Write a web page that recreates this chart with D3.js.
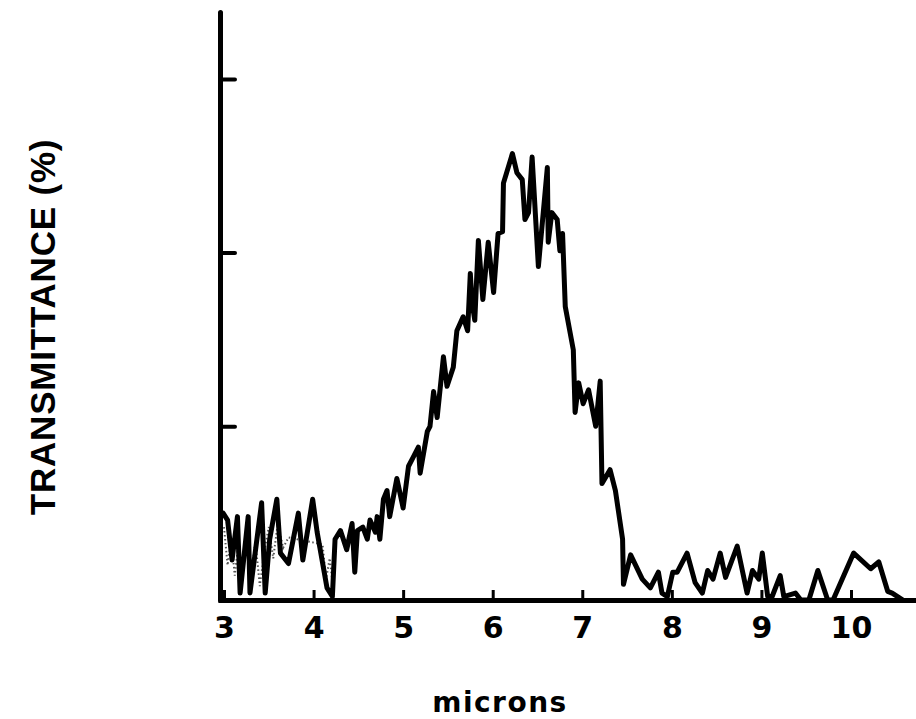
<!DOCTYPE html>
<html>
<head>
<meta charset="utf-8">
<script src="https://cdn.jsdelivr.net/npm/d3@7/dist/d3.min.js"></script>
<style>
  html, body { margin: 0; padding: 0; background: #fff; }
  svg { display: block; }
</style>
</head>
<body>
<svg id="chart" width="916" height="719"></svg>
<script>
// wavelength (microns) and transmittance readings of the main trace
const wavelength = [2.99,3.04,3.09,3.15,3.18,3.27,3.29,3.42,3.46,3.51,3.59,3.63,3.72,3.83,3.88,3.99,4.04,4.15,4.21,4.24,4.30,4.37,4.43,4.46,4.49,4.55,4.60,4.63,4.69,4.71,4.74,4.78,4.82,4.85,4.93,5.00,5.06,5.11,5.17,5.19,5.27,5.30,5.34,5.38,5.45,5.49,5.56,5.60,5.67,5.72,5.75,5.77,5.80,5.84,5.89,5.95,6.01,6.06,6.11,6.12,6.22,6.27,6.33,6.36,6.40,6.44,6.51,6.61,6.62,6.66,6.72,6.75,6.78,6.81,6.90,6.92,6.96,7.01,7.07,7.15,7.20,7.22,7.31,7.37,7.45,7.46,7.54,7.67,7.76,7.85,7.89,7.95,8.01,8.06,8.17,8.26,8.34,8.40,8.46,8.54,8.60,8.73,8.84,8.90,8.97,9.01,9.07,9.12,9.21,9.25,9.38,9.44,9.53,9.63,9.74,9.80,10.03,10.22,10.31,10.41,10.46,10.52,10.58];
const transmittance = [5.0,4.6,2.3,4.8,0.4,4.8,0.4,5.6,0.4,3.5,5.8,2.7,2.1,5.0,2.3,5.8,3.9,0.7,0.2,3.5,4.0,2.9,4.4,1.6,4.0,4.2,3.5,4.6,3.9,4.8,3.5,5.8,6.3,4.8,7.0,5.3,7.7,8.2,8.8,7.3,9.7,10.0,12.0,10.5,14.0,12.3,13.4,15.5,16.3,15.5,18.8,17.1,16.1,20.7,17.3,20.6,17.7,21.1,21.2,24.0,25.7,24.6,24.2,21.9,22.3,25.5,19.2,24.9,20.6,22.3,21.9,20.1,21.1,16.9,14.4,10.8,12.5,11.3,12.1,10.0,12.6,6.7,7.5,6.3,3.5,0.9,2.6,1.2,0.7,1.6,0.4,0.2,1.6,1.6,2.7,1.0,0.4,1.7,1.2,2.7,1.3,3.1,0.4,1.7,1.2,2.7,0.2,0.2,1.4,0.2,0.4,0,0,1.7,0,0,2.7,1.8,2.2,0.5,0.4,0.2,0];

// faint stippled trace visible near 3-4.3 microns
const stippleWavelength = [3.00,3.04,3.08,3.12,3.16,3.20,3.25,3.30,3.35,3.40,3.45,3.50,3.55,3.60,3.66,3.72,4.10,4.14,4.18,4.22];
const stippleValues = [4.2,2.0,3.6,1.4,3.2,1.0,3.8,1.2,3.4,0.8,2.8,4.2,2.4,4.4,3.0,3.6,3.2,1.2,2.4,0.6];

const xTicks = [3,4,5,6,7,8,9,10];
const yTicks = [10,20,30];
const xTitle = "microns";
const yTitle = "TRANSMITTANCE (%)";

const svg = d3.select("#chart");

const x = d3.scaleLinear().domain([2.933, 10.726]).range([218, 916]);
const y = d3.scaleLinear().domain([0, 33.85]).range([600, 12]);

// stipple
const stipple = stippleWavelength.map((d, i) => [d, stippleValues[i]]);
svg.append("path")
  .datum(stipple)
  .attr("d", d3.line().x(d => x(d[0])).y(d => y(d[1])))
  .attr("fill", "none")
  .attr("stroke", "#555")
  .attr("stroke-width", 2)
  .attr("stroke-dasharray", "1.5,2.5");

// main trace
const data = wavelength.map((d, i) => [d, transmittance[i]]);
svg.append("path")
  .datum(data)
  .attr("d", d3.line().x(d => x(d[0])).y(d => y(d[1])))
  .attr("fill", "none")
  .attr("stroke", "#000")
  .attr("stroke-width", 5)
  .attr("stroke-linejoin", "round")
  .attr("stroke-linecap", "round");

// x axis
const xAxis = svg.append("g")
  .attr("transform", "translate(0,600)")
  .call(d3.axisBottom(x).tickValues(xTicks).tickSizeInner(-10).tickSizeOuter(0).tickPadding(17).tickFormat(d3.format("d")));
xAxis.select(".domain").attr("stroke", "#000").attr("stroke-width", 5);
xAxis.selectAll(".tick line").attr("stroke", "#000").attr("stroke-width", 3);
xAxis.selectAll(".tick text")
  .attr("fill", "#000")
  .style("font-family", "'DejaVu Sans', sans-serif")
  .style("font-weight", "bold")
  .style("font-size", "30px");

// y axis
const yAxis = svg.append("g")
  .attr("transform", "translate(220,0)")
  .call(d3.axisLeft(y).tickValues(yTicks).tickSizeInner(-15).tickSizeOuter(0).tickFormat(""));
yAxis.select(".domain").attr("stroke", "#000").attr("stroke-width", 5).attr("stroke-linecap", "round");
yAxis.selectAll(".tick line").attr("stroke", "#000").attr("stroke-width", 4).attr("stroke-linecap", "round");

// titles
svg.append("text")
  .attr("x", 500)
  .attr("y", 712)
  .attr("text-anchor", "middle")
  .style("font-family", "'DejaVu Sans', sans-serif")
  .style("font-weight", "bold")
  .style("font-size", "28px")
  .style("letter-spacing", "1.5px")
  .text(xTitle);

svg.append("text")
  .attr("transform", "translate(55,327) rotate(-90)")
  .attr("text-anchor", "middle")
  .style("font-family", "'Liberation Sans', Arial, sans-serif")
  .style("font-weight", "bold")
  .style("font-size", "35px")
  .style("letter-spacing", "0.8px")
  .text(yTitle);
</script>
</body>
</html>
